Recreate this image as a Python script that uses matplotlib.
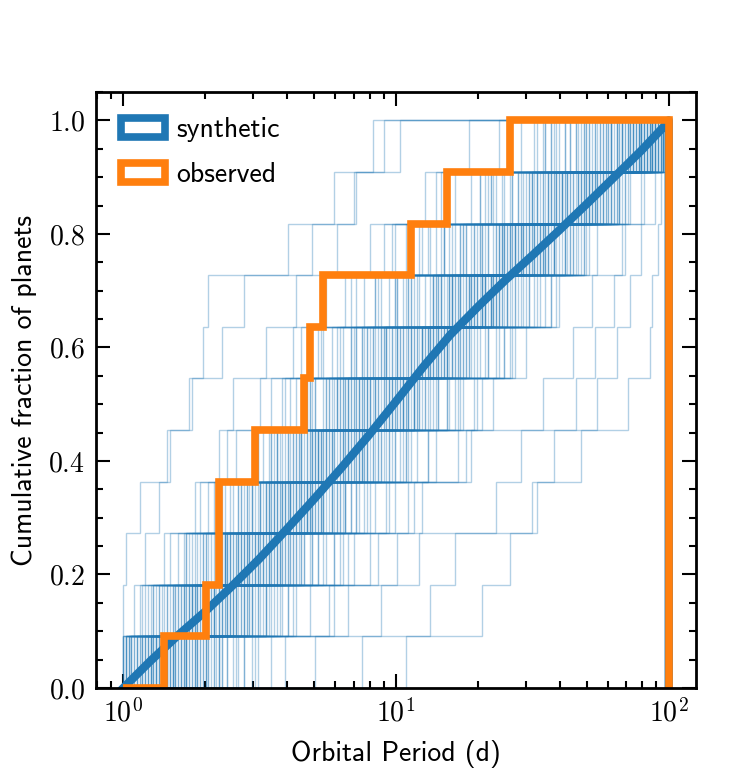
import numpy as np
import matplotlib
matplotlib.use('Agg')
import matplotlib.pyplot as plt
from matplotlib.patches import Patch
from matplotlib.ticker import MultipleLocator

# log10 of orbital period (d) for each synthetic draw of 11 planets
synthetic_logP = [
    [0.12, 0.31, 0.35, 0.58, 0.77, 0.93, 1.08, 1.27, 1.49, 1.73, 1.95],
    [0.03, 0.19, 0.44, 0.49, 0.81, 1.12, 1.15, 1.38, 1.62, 1.70, 1.91],
    [0.26, 0.40, 0.62, 0.71, 0.88, 0.97, 1.30, 1.44, 1.56, 1.84, 1.98],
    [0.08, 0.14, 0.29, 0.47, 0.55, 0.69, 0.90, 1.06, 1.21, 1.52, 1.79],
    [0.33, 0.57, 0.74, 0.86, 1.04, 1.19, 1.33, 1.47, 1.68, 1.81, 1.93],
    [0.01, 0.09, 0.18, 0.27, 0.36, 0.41, 0.53, 0.64, 0.79, 0.85, 0.92],
    [0.45, 0.83, 1.01, 1.05, 1.26, 1.85, 1.93, 1.94, 1.96, 1.97, 1.99],
    [0.15, 0.23, 0.50, 0.63, 0.75, 1.10, 1.25, 1.39, 1.43, 1.59, 1.89],
    [0.06, 0.34, 0.39, 0.60, 0.72, 0.99, 1.14, 1.31, 1.58, 1.75, 1.85],
    [1.04, 1.13, 1.22, 1.37, 1.46, 1.54, 1.65, 1.72, 1.83, 1.90, 1.99],
    [0.02, 0.11, 0.25, 0.43, 0.56, 0.68, 0.80, 0.95, 1.09, 1.35, 1.64],
    [0.20, 0.37, 0.46, 0.66, 0.89, 1.03, 1.18, 1.29, 1.51, 1.69, 1.94],
    [0.10, 0.17, 0.32, 0.54, 0.61, 0.87, 0.94, 1.20, 1.42, 1.57, 1.76],
    [0.28, 0.48, 0.59, 0.76, 0.98, 1.11, 1.26, 1.40, 1.63, 1.80, 1.96],
    [0.02, 0.05, 0.09, 0.14, 0.17, 0.25, 0.30, 0.32, 0.70, 0.86, 0.96],
    [0.24, 0.42, 0.70, 0.82, 1.00, 1.16, 1.24, 1.45, 1.53, 1.71, 1.87],
    [0.13, 0.28, 0.40, 0.57, 0.70, 0.91, 1.07, 1.19, 1.34, 1.50, 1.67],
    [0.55, 0.78, 0.94, 1.10, 1.28, 1.32, 1.48, 1.60, 1.74, 1.82, 1.92],
    [0.00, 0.01, 0.02, 0.07, 0.18, 0.26, 0.37, 0.45, 0.61, 0.78, 1.02],
    [0.18, 0.30, 0.52, 0.64, 0.83, 1.05, 1.21, 1.33, 1.55, 1.78, 1.90],
    [0.09, 0.36, 0.49, 0.62, 0.74, 0.81, 1.13, 1.28, 1.46, 1.65, 1.83],
    [0.31, 0.53, 0.67, 0.90, 1.06, 1.23, 1.40, 1.57, 1.69, 1.85, 1.98],
    [0.07, 0.20, 0.27, 0.41, 0.60, 0.76, 0.88, 1.01, 1.25, 1.47, 1.72],
    [0.39, 0.63, 0.85, 0.97, 1.15, 1.30, 1.42, 1.59, 1.66, 1.79, 1.95],
    [0.14, 0.22, 0.47, 0.58, 0.69, 0.93, 1.08, 1.37, 1.52, 1.63, 1.81],
    [0.02, 0.16, 0.24, 0.34, 0.50, 0.59, 0.72, 0.84, 0.99, 1.17, 1.43],
    [0.71, 0.95, 1.09, 1.52, 1.68, 1.74, 1.81, 1.86, 1.90, 1.95, 1.97],
    [0.11, 0.29, 0.43, 0.65, 0.79, 0.89, 1.12, 1.26, 1.44, 1.61, 1.86],
    [0.23, 0.38, 0.54, 0.73, 0.92, 1.07, 1.16, 1.35, 1.58, 1.74, 1.93],
    [0.06, 0.12, 0.35, 0.44, 0.66, 0.80, 0.96, 1.14, 1.29, 1.54, 1.70],
    [0.27, 0.46, 0.56, 0.77, 0.87, 1.03, 1.22, 1.41, 1.60, 1.77, 1.89],
    [0.01, 0.08, 0.21, 0.32, 0.42, 0.51, 0.63, 0.75, 0.91, 1.11, 1.27],
    [0.17, 0.41, 0.60, 0.68, 0.82, 1.00, 1.19, 1.32, 1.49, 1.67, 1.84],
    [0.36, 0.52, 0.78, 0.93, 1.04, 1.24, 1.38, 1.53, 1.64, 1.80, 1.99],
    [0.04, 0.25, 0.31, 0.48, 0.57, 0.70, 0.86, 1.05, 1.18, 1.39, 1.58],
    [0.19, 0.33, 0.45, 0.61, 0.84, 0.98, 1.10, 1.34, 1.51, 1.71, 1.91],
    [0.88, 1.32, 1.42, 1.50, 1.58, 1.66, 1.73, 1.80, 1.84, 1.91, 1.96],
    [0.10, 0.26, 0.39, 0.53, 0.64, 0.81, 0.95, 1.23, 1.40, 1.62, 1.78],
    [0.15, 0.30, 0.50, 0.69, 0.74, 0.90, 1.15, 1.30, 1.48, 1.68, 1.87],
    [0.08, 0.18, 0.37, 0.55, 0.66, 0.83, 1.01, 1.20, 1.37, 1.56, 1.82],
    [0.05, 0.22, 0.41, 0.46, 0.63, 0.79, 0.97, 1.16, 1.33, 1.61, 1.84],
    [0.16, 0.27, 0.36, 0.59, 0.71, 0.85, 1.02, 1.24, 1.45, 1.57, 1.77],
    [0.29, 0.44, 0.61, 0.78, 0.91, 1.08, 1.21, 1.39, 1.53, 1.72, 1.97],
    [0.03, 0.13, 0.24, 0.38, 0.52, 0.67, 0.74, 0.93, 1.13, 1.31, 1.55],
    [0.21, 0.48, 0.57, 0.72, 0.96, 1.09, 1.27, 1.36, 1.59, 1.76, 1.88],
    [0.09, 0.19, 0.34, 0.51, 0.69, 0.82, 0.99, 1.17, 1.38, 1.50, 1.73],
    [0.42, 0.58, 0.81, 1.00, 1.12, 1.29, 1.43, 1.51, 1.70, 1.86, 1.95],
    [0.07, 0.15, 0.28, 0.40, 0.58, 0.62, 0.77, 0.89, 1.04, 1.22, 1.46],
    [0.13, 0.35, 0.53, 0.65, 0.76, 0.94, 1.11, 1.32, 1.47, 1.66, 1.90],
    [0.25, 0.39, 0.47, 0.70, 0.87, 1.01, 1.18, 1.35, 1.56, 1.74, 1.92],
    [0.04, 0.10, 0.23, 0.37, 0.49, 0.60, 0.73, 0.86, 1.00, 1.19, 1.41],
    [0.34, 0.55, 0.72, 0.84, 1.03, 1.20, 1.34, 1.48, 1.65, 1.83, 1.97],
    [0.11, 0.20, 0.43, 0.56, 0.67, 0.80, 0.98, 1.14, 1.30, 1.53, 1.69],
    [0.18, 0.32, 0.51, 0.62, 0.78, 0.92, 1.06, 1.25, 1.42, 1.64, 1.86],
    [0.60, 0.76, 0.91, 1.07, 1.23, 1.36, 1.44, 1.57, 1.71, 1.81, 1.94],
    [0.02, 0.14, 0.30, 0.45, 0.54, 0.71, 0.85, 1.03, 1.24, 1.43, 1.66],
    [0.22, 0.37, 0.49, 0.66, 0.86, 1.02, 1.13, 1.29, 1.54, 1.72, 1.88],
    [0.08, 0.26, 0.42, 0.57, 0.73, 0.88, 1.05, 1.21, 1.36, 1.60, 1.80],
    [0.30, 0.50, 0.64, 0.80, 0.95, 1.14, 1.28, 1.46, 1.62, 1.78, 1.93],
    [0.12, 0.21, 0.33, 0.48, 0.59, 0.75, 0.93, 1.09, 1.26, 1.45, 1.62],
    [0.05, 0.28, 0.38, 0.54, 0.68, 0.84, 1.01, 1.17, 1.41, 1.59, 1.83],
    [0.19, 0.42, 0.55, 0.69, 0.83, 0.99, 1.16, 1.33, 1.50, 1.70, 1.91],
    [0.14, 0.24, 0.40, 0.53, 0.71, 0.87, 0.97, 1.15, 1.32, 1.49, 1.75],
    [0.37, 0.61, 0.75, 0.89, 1.08, 1.22, 1.37, 1.55, 1.67, 1.82, 1.98],
    [0.01, 0.07, 0.16, 0.29, 0.39, 0.55, 0.66, 0.82, 0.96, 1.15, 1.38],
    [0.24, 0.45, 0.58, 0.74, 0.90, 1.04, 1.19, 1.37, 1.58, 1.76, 1.94],
    [0.10, 0.32, 0.46, 0.63, 0.77, 0.91, 1.10, 1.28, 1.44, 1.63, 1.85],
    [0.17, 0.26, 0.44, 0.60, 0.72, 0.86, 1.03, 1.21, 1.39, 1.55, 1.79],
    [0.49, 0.69, 0.83, 0.98, 1.12, 1.25, 1.40, 1.52, 1.69, 1.84, 1.96],
    [0.06, 0.17, 0.31, 0.43, 0.57, 0.68, 0.84, 1.00, 1.18, 1.34, 1.57],
    [0.20, 0.34, 0.48, 0.67, 0.81, 0.97, 1.12, 1.27, 1.47, 1.67, 1.87],
    [0.03, 0.23, 0.36, 0.51, 0.65, 0.78, 0.92, 1.07, 1.26, 1.48, 1.71],
    [0.28, 0.41, 0.63, 0.79, 0.94, 1.07, 1.23, 1.41, 1.61, 1.77, 1.90],
    [0.15, 0.27, 0.38, 0.56, 0.70, 0.83, 0.95, 1.13, 1.31, 1.52, 1.74],
    [0.09, 0.31, 0.52, 0.64, 0.80, 0.96, 1.11, 1.30, 1.46, 1.68, 1.89],
    [0.32, 0.47, 0.66, 0.82, 0.98, 1.15, 1.31, 1.49, 1.64, 1.79, 1.95],
    [0.04, 0.12, 0.26, 0.35, 0.50, 0.64, 0.79, 0.94, 1.10, 1.28, 1.51],
    [0.23, 0.36, 0.54, 0.68, 0.85, 1.00, 1.17, 1.35, 1.54, 1.73, 1.92],
    [0.11, 0.25, 0.45, 0.61, 0.75, 0.90, 1.06, 1.24, 1.40, 1.58, 1.81],
    [0.16, 0.40, 0.57, 0.73, 0.88, 1.05, 1.20, 1.38, 1.56, 1.75, 1.94],
    [0.17, 0.34, 0.43, 0.57, 0.72, 0.86, 1.09, 1.21, 1.44, 1.57, 1.79],
    [0.29, 0.39, 0.61, 0.68, 0.84, 0.95, 1.06, 1.28, 1.39, 1.62, 1.86],
    [0.12, 0.27, 0.49, 0.62, 0.73, 0.83, 1.02, 1.14, 1.37, 1.51, 1.73],
    [0.36, 0.46, 0.53, 0.75, 0.90, 1.03, 1.19, 1.33, 1.48, 1.71, 1.92],
    [0.21, 0.31, 0.45, 0.56, 0.68, 0.82, 0.97, 1.16, 1.29, 1.52, 1.68],
    [0.43, 0.54, 0.69, 0.86, 0.99, 1.11, 1.26, 1.41, 1.55, 1.72, 1.95],
    [0.16, 0.26, 0.38, 0.51, 0.63, 0.79, 0.88, 1.01, 1.22, 1.40, 1.59],
    [0.24, 0.43, 0.52, 0.67, 0.77, 0.91, 1.07, 1.24, 1.43, 1.64, 1.83],
    [0.31, 0.50, 0.66, 0.74, 0.89, 1.04, 1.14, 1.32, 1.49, 1.67, 1.90],
    [0.13, 0.21, 0.30, 0.44, 0.57, 0.69, 0.81, 0.93, 1.12, 1.33, 1.54],
    [0.27, 0.39, 0.57, 0.72, 0.81, 0.98, 1.13, 1.29, 1.46, 1.61, 1.81],
    [0.48, 0.61, 0.78, 0.87, 1.02, 1.16, 1.29, 1.44, 1.62, 1.76, 1.98],
    [0.19, 0.33, 0.42, 0.59, 0.70, 0.87, 0.99, 1.18, 1.32, 1.45, 1.70],
    [0.22, 0.47, 0.58, 0.68, 0.83, 0.96, 1.10, 1.21, 1.38, 1.56, 1.77],
    [0.37, 0.53, 0.63, 0.81, 0.95, 1.07, 1.24, 1.36, 1.53, 1.69, 1.89],
    [0.15, 0.24, 0.35, 0.46, 0.55, 0.71, 0.84, 1.00, 1.17, 1.31, 1.52],
    [0.32, 0.42, 0.55, 0.69, 0.86, 1.02, 1.18, 1.30, 1.45, 1.63, 1.85],
    [0.25, 0.48, 0.56, 0.70, 0.80, 0.94, 1.05, 1.22, 1.41, 1.58, 1.79],
    [0.41, 0.59, 0.72, 0.82, 0.97, 1.09, 1.25, 1.43, 1.57, 1.73, 1.96],
    [0.18, 0.30, 0.40, 0.54, 0.65, 0.77, 0.90, 1.08, 1.25, 1.42, 1.64],
    [0.28, 0.37, 0.51, 0.66, 0.78, 0.93, 1.10, 1.23, 1.40, 1.59, 1.78],
    [0.14, 0.31, 0.44, 0.55, 0.72, 0.84, 0.96, 1.11, 1.28, 1.46, 1.71],
    [0.35, 0.45, 0.62, 0.79, 0.92, 1.06, 1.19, 1.35, 1.50, 1.68, 1.91],
    [0.23, 0.34, 0.47, 0.60, 0.73, 0.88, 1.01, 1.15, 1.34, 1.49, 1.66],
    [0.45, 0.56, 0.70, 0.84, 1.00, 1.13, 1.27, 1.42, 1.58, 1.79, 1.97],
    [0.20, 0.28, 0.41, 0.52, 0.64, 0.75, 0.91, 1.05, 1.20, 1.37, 1.60],
    [0.26, 0.44, 0.54, 0.71, 0.85, 0.99, 1.12, 1.27, 1.44, 1.60, 1.82],
    [0.39, 0.49, 0.65, 0.77, 0.90, 1.05, 1.22, 1.37, 1.54, 1.70, 1.88],
    [0.11, 0.23, 0.37, 0.48, 0.61, 0.74, 0.86, 0.98, 1.15, 1.35, 1.55],
    [0.30, 0.41, 0.60, 0.73, 0.87, 1.01, 1.16, 1.32, 1.47, 1.65, 1.87],
    [0.22, 0.36, 0.46, 0.62, 0.75, 0.89, 1.03, 1.20, 1.38, 1.54, 1.75],
    [0.34, 0.53, 0.67, 0.80, 0.94, 1.08, 1.23, 1.38, 1.55, 1.74, 1.94],
    [0.17, 0.29, 0.39, 0.50, 0.66, 0.79, 0.92, 1.06, 1.24, 1.43, 1.62],
    [0.27, 0.40, 0.58, 0.70, 0.82, 0.98, 1.14, 1.26, 1.42, 1.61, 1.83],
    [0.50, 0.64, 0.80, 0.91, 1.05, 1.19, 1.34, 1.49, 1.65, 1.82, 1.98],
    [0.13, 0.25, 0.38, 0.53, 0.62, 0.76, 0.89, 1.04, 1.18, 1.36, 1.57],
    [0.31, 0.45, 0.59, 0.74, 0.88, 1.03, 1.17, 1.33, 1.51, 1.69, 1.90],
    [0.19, 0.38, 0.50, 0.64, 0.76, 0.90, 1.04, 1.22, 1.39, 1.56, 1.76],
    [0.36, 0.51, 0.64, 0.77, 0.93, 1.07, 1.21, 1.36, 1.52, 1.71, 1.93],
    [0.24, 0.32, 0.48, 0.59, 0.71, 0.85, 1.00, 1.17, 1.31, 1.50, 1.69],
]

# cumulative fraction of the full synthetic sample
synthetic_cdf_P = [1.0, 1.26, 1.58, 2.0, 2.51, 3.16, 3.98, 5.01, 6.31, 7.94,
                   10.0, 12.6, 15.8, 20.0, 25.1, 31.6, 39.8, 50.1, 63.1, 79.4,
                   95.5, 100.0, 100.0]
synthetic_cdf = [0.0, 0.048, 0.092, 0.135, 0.180, 0.228, 0.280, 0.333, 0.388,
                 0.445, 0.505, 0.566, 0.622, 0.672, 0.718, 0.762, 0.807, 0.853,
                 0.900, 0.947, 0.988, 1.0, 0.0]

# observed planets, orbital period (d)
observed_P = [1.42, 2.02, 2.27, 2.27, 3.05, 4.65, 4.86, 5.45, 11.4, 15.4, 26.2]

plt.rcParams['font.family'] = 'cmr10'
plt.rcParams['mathtext.fontset'] = 'cm'
plt.rcParams['axes.formatter.use_mathtext'] = True

bins = np.logspace(0, 2, 200)
synthetic_P = [10 ** np.array(d) for d in synthetic_logP]

fig = plt.figure(figsize=(7.5, 7.73), dpi=100)
ax = fig.add_axes([96 / 750, 85 / 773, 600 / 750, 596 / 773])

# individual synthetic draws
for draw in synthetic_P:
    ax.hist(draw, bins=bins, cumulative=True, density=True, histtype='step',
            color='C0', alpha=0.34, lw=1)

# all synthetic planets together
ax.plot(synthetic_cdf_P, synthetic_cdf, color='C0', lw=6)
ax.hist(observed_P, bins=bins, cumulative=True, density=True,
        histtype='step', color='C1', lw=5.5)

ax.set_xscale('log')
ax.yaxis.set_major_locator(MultipleLocator(0.2))
ax.yaxis.set_minor_locator(MultipleLocator(0.05))
ax.tick_params(which='both', direction='in', top=True, right=True, width=1.5,
               labelsize=20, pad=8)
ax.tick_params(which='major', length=10)
ax.tick_params(which='minor', length=5)
for s in ax.spines.values():
    s.set_linewidth(2)

ax.set_xlabel('Orbital Period (d)', family='cmss10', fontsize=20, labelpad=9)
ax.set_ylabel('Cumulative fraction of planets', family='cmss10', fontsize=20,
              labelpad=8)

handles = [Patch(facecolor='none', edgecolor='C0', lw=5.5, label='synthetic'),
           Patch(facecolor='none', edgecolor='C1', lw=5.5, label='observed')]
ax.legend(handles=handles, loc='upper left', frameon=False, handlelength=1.6,
          handletextpad=0.4, labelspacing=0.72,
          prop={'family': 'cmss10', 'size': 20})

fig.savefig('out.png', dpi=100)
